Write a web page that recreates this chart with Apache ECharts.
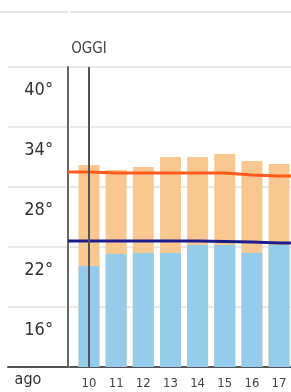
<!DOCTYPE html>
<html>
<head>
<meta charset="utf-8">
<script src="https://cdn.jsdelivr.net/npm/echarts@6/dist/echarts.min.js"></script>
<style>
  html, body { margin: 0; padding: 0; background: #fff; }
  #meteo { width: 291px; height: 392px; }
</style>
</head>
<body>
<div id="meteo"></div>
<script>
var days = [10, 11, 12, 13, 14, 15, 16, 17];
var tempMax = [32.5, 32.0, 32.3, 33.3, 33.3, 33.6, 32.9, 32.6];
var tempMin = [22.4, 23.6, 23.7, 23.7, 24.5, 24.5, 23.7, 24.5];
// medie del periodo (una in piu' per lato, tagliata dalla griglia)
var lineDays = [9, 10, 11, 12, 13, 14, 15, 16, 17, 18];
var normMax = [31.8, 31.8, 31.7, 31.7, 31.7, 31.7, 31.7, 31.5, 31.4, 31.4];
var normMin = [24.9, 24.9, 24.9, 24.9, 24.9, 24.9, 24.85, 24.8, 24.7, 24.7];
var yLabels = [16, 22, 28, 34, 40];
var today = 10;

var font = "'DejaVu Sans Condensed', 'Liberation Sans Narrow', sans-serif";

function pairs(xs, ys) {
  return xs.map(function (x, i) { return [x, ys[i]]; });
}

var myEcharts = echarts.init(document.getElementById('meteo'));
var options = {
  animation: false,
  graphic: [
    { type: 'line', shape: { x1: 0, y1: 12, x2: 68, y2: 12 }, style: { stroke: '#e6e6e6', lineWidth: 2 } },
    { type: 'line', shape: { x1: 70, y1: 12, x2: 291, y2: 12 }, style: { stroke: '#e6e6e6', lineWidth: 2 } }
  ],
  grid: [
    { left: 8, top: 67, width: 60, height: 300, outerBoundsMode: 'none' },
    { left: 70, top: 67, right: 0, height: 300, outerBoundsMode: 'none' }
  ],
  xAxis: [
    {
      gridIndex: 0,
      type: 'value',
      min: 0,
      max: 1,
      name: 'ago',
      nameLocation: 'middle',
      nameGap: 5,
      nameTextStyle: { fontFamily: font, fontSize: 16, color: '#333', padding: [0, 20, 0, 0] },
      axisLine: { lineStyle: { color: '#555', width: 2 } },
      axisTick: { show: false },
      axisLabel: { show: false },
      splitLine: { show: false }
    },
    {
      gridIndex: 1,
      type: 'value',
      min: 9.3,
      max: 17.44,
      axisLine: { lineStyle: { color: '#555', width: 2 } },
      axisTick: { show: false },
      axisLabel: {
        customValues: days,
        margin: 10,
        fontFamily: font,
        fontSize: 13,
        color: '#444'
      },
      splitLine: { show: false }
    }
  ],
  yAxis: [
    {
      gridIndex: 0,
      type: 'value',
      position: 'right',
      min: 12.3,
      max: 42.3,
      interval: 6,
      axisLine: { show: true, onZero: false, lineStyle: { color: '#666', width: 2 } },
      axisTick: { show: false },
      axisLabel: {
        inside: true,
        margin: 15,
        customValues: yLabels,
        formatter: function (v) { return v + '°'; },
        fontFamily: font,
        fontSize: 18,
        color: '#333'
      },
      splitLine: { show: true, lineStyle: { color: '#e8e8e8', width: 2 } }
    },
    {
      gridIndex: 1,
      type: 'value',
      min: 12.3,
      max: 42.3,
      interval: 6,
      axisLine: { show: false },
      axisTick: { show: false },
      axisLabel: { show: false },
      splitLine: { lineStyle: { color: '#e8e8e8', width: 2 } }
    }
  ],
  series: [
    {
      name: 'max',
      type: 'bar',
      xAxisIndex: 1,
      yAxisIndex: 1,
      barWidth: 21,
      barGap: '-100%',
      itemStyle: { color: '#f9c891' },
      data: pairs(days, tempMax),
      markLine: {
        silent: true,
        symbol: 'none',
        lineStyle: { color: '#555', width: 2, type: 'solid' },
        label: {
          formatter: 'OGGI',
          position: 'end',
          distance: 10,
          fontFamily: font,
          fontSize: 15,
          color: '#444'
        },
        data: [{ xAxis: today }]
      }
    },
    {
      name: 'min',
      type: 'bar',
      xAxisIndex: 1,
      yAxisIndex: 1,
      barWidth: 21,
      barGap: '-100%',
      itemStyle: { color: '#93cdeb' },
      data: pairs(days, tempMin)
    },
    {
      name: 'media max',
      type: 'line',
      xAxisIndex: 1,
      yAxisIndex: 1,
      symbol: 'none',
      lineStyle: { color: '#ff5a1e', width: 3 },
      data: pairs(lineDays, normMax)
    },
    {
      name: 'media min',
      type: 'line',
      xAxisIndex: 1,
      yAxisIndex: 1,
      symbol: 'none',
      lineStyle: { color: '#1c1c8c', width: 3 },
      data: pairs(lineDays, normMin)
    }
  ]
};
myEcharts.setOption(options);
</script>
</body>
</html>
